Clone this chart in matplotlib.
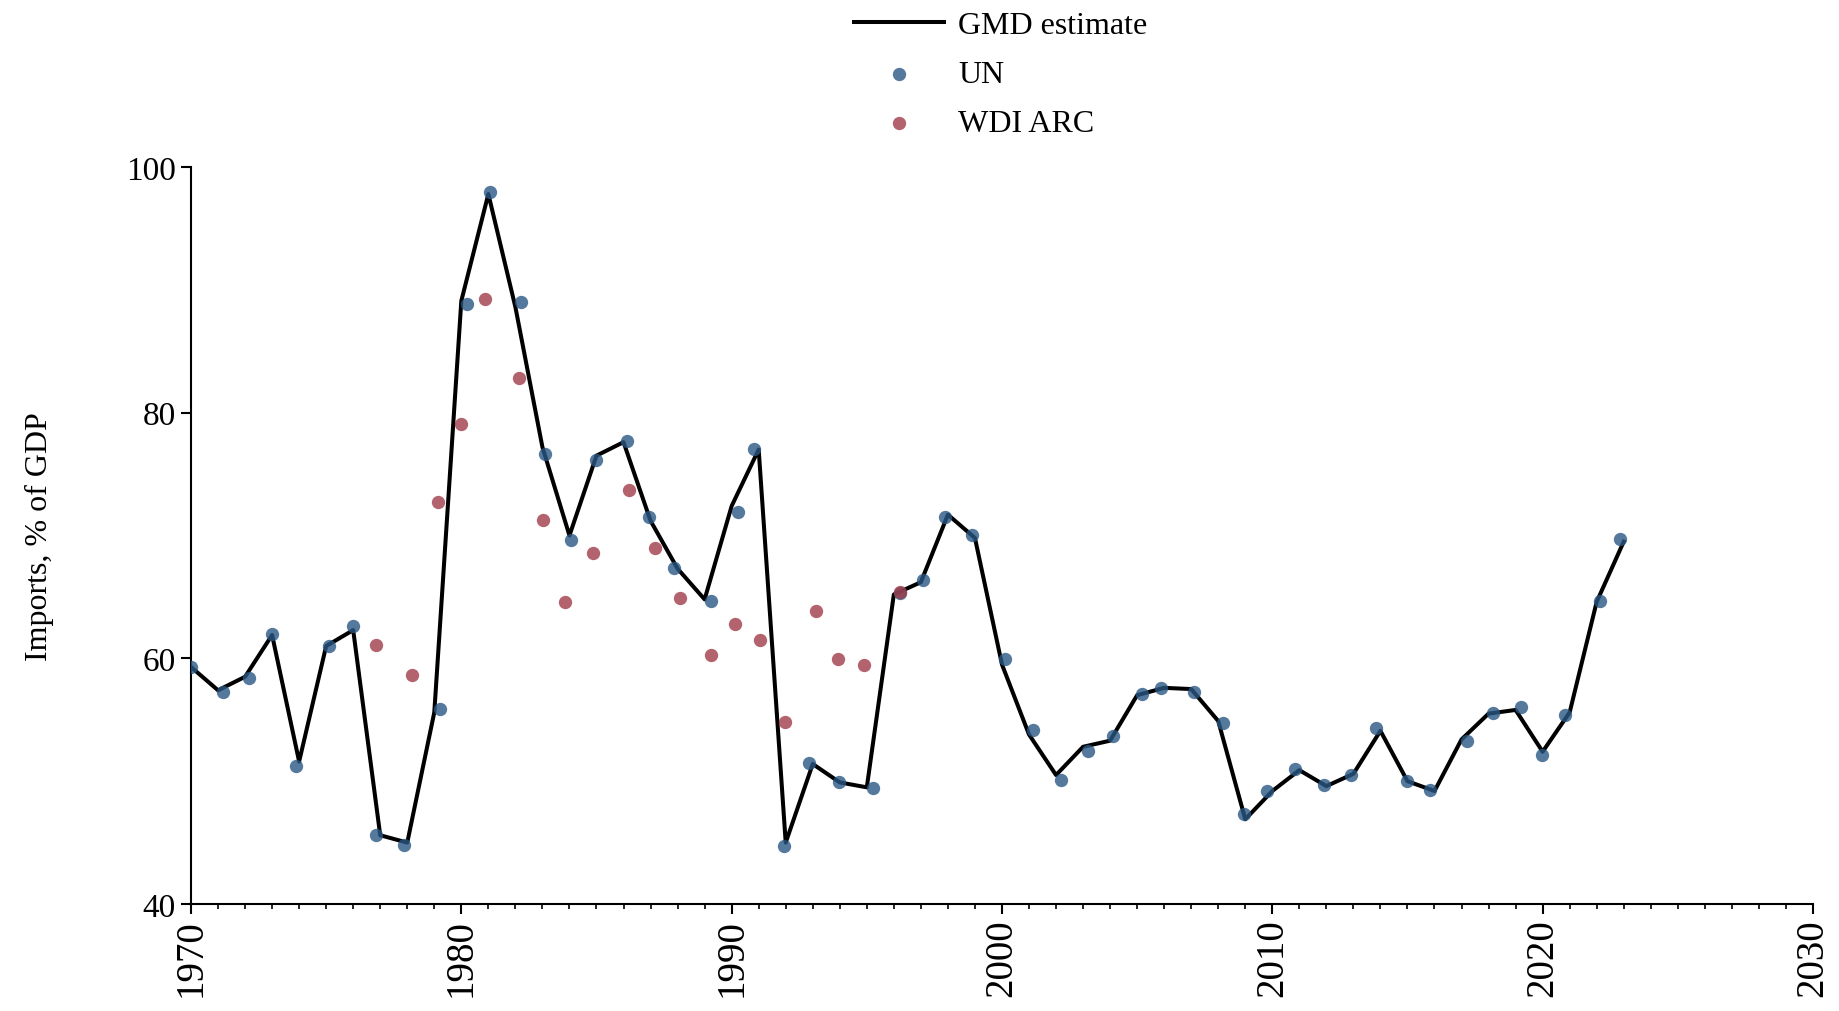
import matplotlib
matplotlib.use("Agg")
import matplotlib.pyplot as plt
from matplotlib.ticker import MultipleLocator

plt.rcParams['font.family'] = ['Liberation Serif', 'DejaVu Serif']

# GMD estimate, one value per year
gmd_years = list(range(1970, 2024))
gmd_vals = [59.3, 57.4, 58.5, 61.9, 51.6, 61.0, 62.3, 45.6, 45.0, 55.6,
            89.1, 97.8, 88.6, 77.2, 70.0, 76.5, 77.6, 71.2, 67.3, 64.8,
            72.4, 77.0, 45.0, 51.4, 49.9, 49.5, 65.2, 66.2, 71.7, 69.8,
            59.5, 53.8, 50.5, 52.8, 53.3, 57.0, 57.6, 57.5, 54.9, 46.9,
            49.2, 50.9, 49.6, 50.6, 54.1, 50.0, 49.2, 53.4, 55.5, 55.8,
            52.4, 55.6, 64.6, 69.5]

# UN source points
un_x = [1970.0, 1971.18, 1972.14, 1973.0, 1973.87, 1975.12, 1976.01, 1976.85, 1977.87, 1979.22,
        1980.2, 1981.07, 1982.22, 1983.08, 1984.04, 1984.97, 1986.12, 1986.96, 1987.86, 1989.22,
        1990.22, 1990.82, 1991.93, 1992.85, 1993.97, 1995.22, 1996.21, 1997.07, 1997.91, 1998.89,
        2000.12, 2001.14, 2002.17, 2003.18, 2004.12, 2005.17, 2005.88, 2007.11, 2008.17, 2008.96,
        2009.82, 2010.84, 2011.93, 2012.9, 2013.85, 2015.0, 2015.83, 2017.19, 2018.18, 2019.2,
        2019.97, 2020.81, 2022.11, 2022.86]
un_y = [59.27, 57.23, 58.37, 61.95, 51.25, 60.98, 62.65, 45.61, 44.8, 55.87,
        88.85, 98.0, 88.99, 76.64, 69.63, 76.15, 77.72, 71.53, 67.33, 64.67,
        71.94, 77.02, 44.74, 51.45, 49.9, 49.44, 65.29, 66.4, 71.48, 70.04,
        59.94, 54.16, 50.09, 52.43, 53.65, 57.09, 57.58, 57.23, 54.71, 47.32,
        49.17, 50.99, 49.68, 50.5, 54.3, 49.98, 49.27, 53.29, 55.52, 56.01,
        52.13, 55.38, 64.69, 69.71]

# WDI ARC source points
wdi_x = [1976.83, 1978.17, 1979.14, 1979.99, 1980.87, 1982.12, 1983.02, 1983.82, 1984.87, 1986.2,
         1987.18, 1988.08, 1989.22, 1990.11, 1991.04, 1991.98, 1993.11, 1993.95, 1994.88, 1996.22]
wdi_y = [61.11, 58.66, 72.7, 79.05, 89.26, 82.8, 71.29, 64.58, 68.55, 73.7,
         68.96, 64.93, 60.27, 62.79, 61.49, 54.84, 63.83, 59.94, 59.48, 65.4]

fig = plt.figure(figsize=(18.4, 10.12), dpi=100)
ax = fig.add_axes([0.1038, 0.1057, 0.8815, 0.7283])

ax.plot(gmd_years, gmd_vals, color='black', lw=2.9, label='GMD estimate', zorder=2)
ax.scatter(un_x, un_y, s=92, color='#2a5783', alpha=0.8, lw=0, label='UN', zorder=3)
ax.scatter(wdi_x, wdi_y, s=92, color='#a03c48', alpha=0.8, lw=0, label='WDI ARC', zorder=4)

ax.set_xlim(1970, 2030)
ax.set_ylim(40, 100)
ax.set_yticks([40, 60, 80, 100])
ax.xaxis.set_major_locator(MultipleLocator(10))
ax.xaxis.set_minor_locator(MultipleLocator(1))

for s in ['top', 'right']:
    ax.spines[s].set_visible(False)
for s in ['left', 'bottom']:
    ax.spines[s].set_linewidth(1.5)

ax.tick_params(axis='y', length=7, width=1.5, labelsize=24, pad=4)
ax.tick_params(axis='x', which='major', length=7, width=1.5, labelsize=28, pad=3, labelrotation=90)
ax.tick_params(axis='x', which='minor', length=3.6, width=1.2)

ax.set_ylabel('Imports, % of GDP', fontsize=23, labelpad=52)

fig.legend(loc='upper center', bbox_to_anchor=(0.544, 1.017), frameon=False,
           fontsize=23, handlelength=2.8, handletextpad=0.45, labelspacing=0.62)

fig.savefig('out.png', dpi=100)
